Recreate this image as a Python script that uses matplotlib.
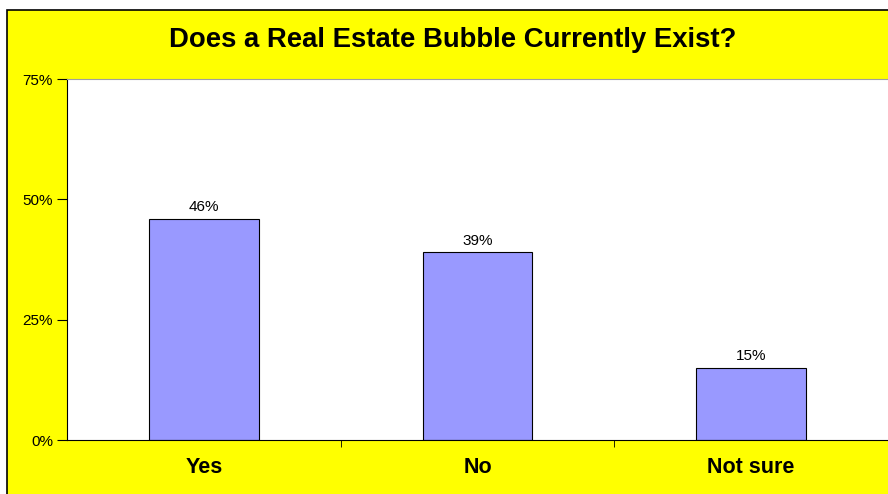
import matplotlib.pyplot as plt
from matplotlib.patches import Rectangle
import numpy as np

categories = ["Yes", "No", "Not sure"]
shares = [0.46, 0.39, 0.15]
bar_labels = ["46%", "39%", "15%"]
yticks = [0, 0.25, 0.5, 0.75]
ytick_labels = ["0%", "25%", "50%", "75%"]

plt.rcParams['font.family'] = ['Liberation Sans', 'DejaVu Sans']

fig = plt.figure(figsize=(8.88, 4.94), dpi=100)
fig.patch.set_facecolor("white")
# yellow chart area with black frame, cut off at right/bottom
fig.patches.append(Rectangle((7 / 888, -0.1), 1.2, 1 - 10 / 494 + 0.1,
                             transform=fig.transFigure, facecolor="#FFFF00",
                             edgecolor="black", linewidth=1.2, zorder=0))

ax = fig.add_axes([67 / 888, 54 / 494, 1 - 67 / 888, (440 - 79) / 494])
ax.set_zorder(2)
ax.set_facecolor("white")
x = np.arange(len(categories))
ax.bar(x, shares, width=0.4, color="#9999FF", edgecolor="black", linewidth=0.8)
for xi, v, lab in zip(x, shares, bar_labels):
    ax.text(xi, v + 0.009, lab, ha="center", va="bottom", fontsize=11)

ax.set_xlim(-0.5, 2.5)
ax.set_ylim(0, 0.75)
ax.set_yticks(yticks)
ax.set_yticklabels(ytick_labels, fontsize=11)
ax.set_xticks(x)
ax.set_xticklabels(categories, fontsize=15.5, fontweight="bold")
ax.tick_params(axis="x", length=0, pad=12)
ax.set_xticks([0.5, 1.5], minor=True)
ax.tick_params(axis="x", which="minor", length=5, direction="out")
ax.tick_params(axis="y", length=7, direction="out", pad=3)

ax.spines["top"].set_color("#A0A0A0")
ax.spines["right"].set_visible(False)
ax.spines["left"].set_color("black")
ax.spines["bottom"].set_color("black")

fig.text(453 / 888, 1 - 40 / 494, "Does a Real Estate Bubble Currently Exist?",
         ha="center", va="center", fontsize=19.8, fontweight="bold")

fig.savefig("out.png", dpi=100)
